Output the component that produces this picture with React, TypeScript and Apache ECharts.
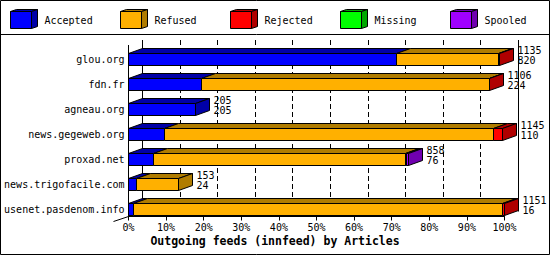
import React, { useEffect, useRef } from "react";
import * as echarts from "echarts";

const sites = [
  "glou.org",
  "fdn.fr",
  "agneau.org",
  "news.gegeweb.org",
  "proxad.net",
  "news.trigofacile.com",
  "usenet.pasdenom.info",
];
const accepted = [820, 224, 205, 110, 76, 24, 16];
const refused = [313, 880, 0, 1006, 772, 129, 1130];
const rejected = [2, 2, 0, 29, 3, 0, 5];
const missing = [0, 0, 0, 0, 0, 0, 0];
const spooled = [0, 0, 0, 0, 7, 0, 0];
const seriesNames = ["Accepted", "Refused", "Rejected", "Missing", "Spooled"];
const xTicks = [0, 10, 20, 30, 40, 50, 60, 70, 80, 90, 100];
const chartTitle = "Outgoing feeds (innfeed) by Articles";

const seriesColors = ["#0000FF", "#FFB000", "#FF0000", "#00FF00", "#A000FF"];
const seriesDark = ["#0000A8", "#B07C00", "#B00000", "#00A800", "#7000B0"];
const MONO = '"DejaVu Sans Mono", monospace';

export default function App() {
  const ref = useRef<HTMLDivElement>(null);
  useEffect(() => {
    document.body.style.margin = "0";
    const chart = echarts.init(ref.current!, null, { renderer: "svg" });
    const segs = sites.map((_, i) => [accepted[i], refused[i], rejected[i], missing[i], spooled[i]]);
    const totals = segs.map((s) => s.reduce((a, b) => a + b, 0));
    const maxTotal = Math.max(...totals);
    const pct = (v: number) => (v / maxTotal) * 100;
    const DX = 14;
    const DY = 5;
    const HALF = 6;
    const px = (v: number) => Math.floor(v) + 0.5;

    const legendGraphics: any[] = [];
    seriesNames.forEach((name, k) => {
      const x = 10.5 + 110 * k;
      const y = 11.5;
      const w = 21;
      const h = 17;
      const dx = 6;
      const dy = 2;
      legendGraphics.push(
        {
          type: "polygon",
          shape: { points: [[x, y], [x + dx, y - dy], [x + w + dx, y - dy], [x + w, y]] },
          style: { fill: seriesDark[k], stroke: "#000", lineWidth: 1 },
        },
        {
          type: "polygon",
          shape: { points: [[x + w, y], [x + w + dx, y - dy], [x + w + dx, y + h - dy], [x + w, y + h]] },
          style: { fill: seriesDark[k], stroke: "#000", lineWidth: 1 },
        },
        {
          type: "rect",
          shape: { x, y, width: w, height: h },
          style: { fill: seriesColors[k], stroke: "#000", lineWidth: 1 },
        },
        {
          type: "text",
          style: {
            text: name,
            x: x + 34,
            y: 20.5,
            align: "left",
            verticalAlign: "middle",
            font: `10px ${MONO}`,
            fill: "#000",
          },
        }
      );
    });

    const option: any = {
      animation: false,
      backgroundColor: "#fff",
      grid: { left: 128.5, right: 45.5, top: 47, bottom: 33 },
      xAxis: {
        type: "value",
        min: 0,
        max: 100,
        interval: 10,
        offset: -5.5,
        axisLine: { show: true, lineStyle: { color: "#000", width: 1 } },
        axisTick: { show: true, length: 4, lineStyle: { color: "#000", width: 1 } },
        axisLabel: { formatter: "{value}%", color: "#000", fontFamily: MONO, fontSize: 10, margin: 6 },
        splitLine: { show: false },
      },
      yAxis: {
        type: "category",
        data: sites,
        inverse: true,
        axisLine: { show: false },
        axisTick: { show: false },
        axisLabel: { color: "#000", fontFamily: MONO, fontSize: 10, margin: 4 },
        splitLine: { show: false },
      },
      series: [
        {
          type: "custom",
          name: "frame",
          z: 1,
          silent: true,
          data: xTicks.map((v) => [v, 0]),
          renderItem: (params: any, api: any) => {
            const v = api.value(0);
            const xf = px(api.coord([v, 0])[0]);
            const firstC = api.coord([0, 0])[1];
            const lastC = api.coord([0, sites.length - 1])[1];
            const frontBottom = Math.floor(lastC + 7) + 0.5;
            const frontTop = Math.floor(firstC - 14.5);
            const backTop = frontTop - DY;
            const backBottom = frontBottom - DY;
            const solid = v === xTicks[0] || v === xTicks[xTicks.length - 1];
            const children: any[] = [
              {
                type: "line",
                shape: { x1: xf + DX, y1: backTop, x2: xf + DX, y2: backBottom },
                style: { stroke: "#000", lineWidth: 1, lineDash: solid ? null : [5, 3] },
              },
            ];
            if (params.dataIndex === 0) {
              children.push(
                {
                  type: "line",
                  shape: { x1: xf, y1: frontTop, x2: xf, y2: frontBottom },
                  style: { stroke: "#000", lineWidth: 1 },
                },
                {
                  type: "line",
                  shape: { x1: xf - 15, y1: frontBottom + 5, x2: xf, y2: frontBottom },
                  style: { stroke: "#000", lineWidth: 1 },
                }
              );
            }
            return { type: "group", children };
          },
        },
        {
          type: "custom",
          name: "bars",
          z: 2,
          silent: true,
          data: sites.map((_, i) => [pct(totals[i]), i]),
          renderItem: (params: any, api: any) => {
            const i = params.dataIndex;
            const vals = segs[i];
            const cy = api.coord([0, i])[1];
            const top = Math.floor(cy - HALF) + 0.5;
            const h = 2 * HALF;
            const xAt = (c: number) => px(api.coord([pct(c), i])[0]);
            const children: any[] = [];
            let cum = 0;
            let lastK = 0;
            let xEnd = xAt(0);
            for (let k = 0; k < vals.length; k++) {
              if (!vals[k]) continue;
              const x0 = xAt(cum);
              cum += vals[k];
              const x1 = xAt(cum);
              children.push(
                {
                  type: "polygon",
                  shape: { points: [[x0, top], [x0 + DX, top - DY], [x1 + DX, top - DY], [x1, top]] },
                  style: { fill: seriesDark[k], stroke: "#000", lineWidth: 1 },
                },
                {
                  type: "rect",
                  shape: { x: x0, y: top, width: x1 - x0, height: h },
                  style: { fill: seriesColors[k], stroke: "#000", lineWidth: 1 },
                }
              );
              lastK = k;
              xEnd = x1;
            }
            children.push({
              type: "polygon",
              shape: {
                points: [[xEnd, top], [xEnd + DX, top - DY], [xEnd + DX, top + h - DY], [xEnd, top + h]],
              },
              style: { fill: seriesDark[lastK], stroke: "#000", lineWidth: 1 },
            });
            const tx = xEnd + DX + 4;
            children.push(
              {
                type: "text",
                style: {
                  text: String(totals[i]),
                  x: tx,
                  y: cy - 9.5,
                  align: "left",
                  verticalAlign: "middle",
                  font: `10px ${MONO}`,
                  fill: "#000",
                },
              },
              {
                type: "text",
                style: {
                  text: String(accepted[i]),
                  x: tx,
                  y: cy + 0.5,
                  align: "left",
                  verticalAlign: "middle",
                  font: `10px ${MONO}`,
                  fill: "#000",
                },
              }
            );
            return { type: "group", children };
          },
        },
      ],
      graphic: [
        {
          type: "rect",
          z: 100,
          silent: true,
          shape: { x: 0.5, y: 0.5, width: 549, height: 254 },
          style: { fill: "none", stroke: "#000", lineWidth: 1 },
        },
        {
          type: "line",
          z: 100,
          silent: true,
          shape: { x1: 0, y1: 34.5, x2: 550, y2: 34.5 },
          style: { stroke: "#000", lineWidth: 1 },
        },
        {
          type: "group",
          z: 100,
          silent: true,
          children: legendGraphics,
        },
        {
          type: "text",
          z: 100,
          silent: true,
          style: {
            text: chartTitle,
            x: 275,
            y: 241,
            align: "center",
            verticalAlign: "middle",
            font: `bold 11.5px ${MONO}`,
            fill: "#000",
          },
        },
      ],
    };
    chart.setOption(option);
    return () => chart.dispose();
  }, []);
  return <div ref={ref} style={{ width: 550, height: 255 }} />;
}
